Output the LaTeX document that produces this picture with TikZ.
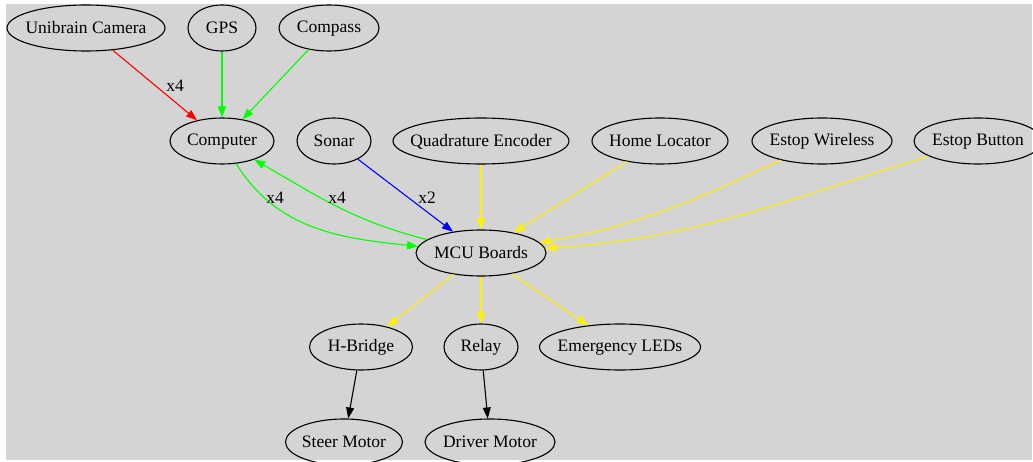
\documentclass[tikz,border=0pt]{standalone}
\usepackage{fontspec}
\setmainfont{Liberation Serif}
\usetikzlibrary{shapes.geometric, arrows.meta}

\begin{document}
\begin{tikzpicture}[x=1pt, y=1pt, >={Triangle[length=11pt, width=8pt]},
  part/.style={ellipse, draw=black, line width=1.1pt, inner sep=0pt,
    minimum height=46pt, font=\fontsize{17.5}{20}\selectfont},
  wire/.style={->, line width=1.1pt},
  lbl/.style={inner sep=0pt, font=\fontsize{17.5}{20}\selectfont}]
  % -------- shared settings --------
  \colorlet{bg}{black!17}
  \def\ntxt#1{\makebox[0pt]{\vphantom{Ay}\raisebox{-1.5pt}{#1}}}

  % canvas
  \fill[white] (0,0) rectangle (1033,461);
  \fill[bg] (6,1) rectangle (1032,457);
  \useasboundingbox (0,0) rectangle (1033,461);

  % ======== sensors ========
  \node[part, minimum width=158] (cam) at (86,433) {\ntxt{Unibrain Camera}};
  \node[part, minimum width=68] (gps) at (222,433) {\ntxt{GPS}};
  \node[part, minimum width=100] (compass) at (329,433) {\ntxt{Compass}};

  \node[part, minimum width=104] (comp) at (222,320) {\ntxt{Computer}};
  \node[part, minimum width=74] (sonar) at (334,320) {\ntxt{Sonar}};
  \node[part, minimum width=176] (quad) at (481,320) {\ntxt{Quadrature Encoder}};
  \node[part, minimum width=136] (home) at (660,320) {\ntxt{Home Locator}};
  \node[part, minimum width=140] (wireless) at (822,320) {\ntxt{Estop Wireless}};
  \node[part, minimum width=128] (button) at (978,320) {\ntxt{Estop Button}};

  % ======== boards and outputs ========
  \node[part, minimum width=130] (mcu) at (481,208) {\ntxt{MCU Boards}};
  \node[part, minimum width=103] (hbridge) at (361,114) {\ntxt{H-Bridge}};
  \node[part, minimum width=74] (relay) at (481,114) {\ntxt{Relay}};
  \node[part, minimum width=161] (leds) at (620,114) {\ntxt{Emergency LEDs}};
  \node[part, minimum width=117] (steer) at (344,19) {\ntxt{Steer Motor}};
  \node[part, minimum width=130] (driver) at (490,19) {\ntxt{Driver Motor}};

  % into the computer
  \draw[wire, red] (cam) -- (comp);
  \draw[wire, green] (gps) -- (comp);
  \draw[wire, green] (compass) -- (comp);

  % computer <-> MCU
  \draw[wire, green] (comp) to[out=-58, in=174] (mcu);
  \draw[wire, green] (mcu) to[out=166, in=-30] (comp);

  % into the MCU boards
  \draw[wire, blue] (sonar) -- (mcu);
  \draw[wire, yellow] (quad) -- (mcu);
  \draw[wire, yellow] (home) -- (mcu);
  \draw[wire, yellow] (wireless) to[out=205, in=10] (mcu);
  \draw[wire, yellow] (button) to[out=197, in=4] (mcu);

  % out of the MCU boards
  \draw[wire, yellow] (mcu) -- (hbridge);
  \draw[wire, yellow] (mcu) -- (relay);
  \draw[wire, yellow] (mcu) -- (leds);
  \draw[wire, black] (hbridge) -- (steer);
  \draw[wire, black] (relay) -- (driver);

  % edge counts
  \node[lbl] (ncam) at (175,375) {x4};
  \node[lbl] (ndown) at (275,263) {x4};
  \node[lbl] (nup) at (337,263) {x4};
  \node[lbl] (nsonar) at (427,263) {x2};
\end{tikzpicture}
\end{document}
